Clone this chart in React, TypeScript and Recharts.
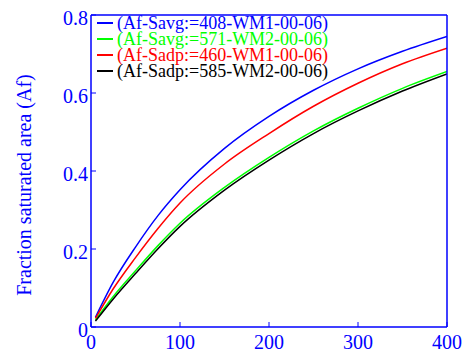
import { LineChart, Line, XAxis, YAxis, Legend } from 'recharts';

const xValues = [5, 25, 50, 75, 100, 150, 200, 250, 300, 350, 400];
const savg408 = [0.025, 0.115, 0.205, 0.285, 0.352, 0.458, 0.54, 0.607, 0.662, 0.707, 0.745];
const savg571 = [0.018, 0.078, 0.144, 0.208, 0.266, 0.358, 0.435, 0.503, 0.561, 0.612, 0.655];
const sadp460 = [0.022, 0.098, 0.178, 0.252, 0.318, 0.418, 0.496, 0.566, 0.625, 0.675, 0.715];
const sadp585 = [0.015, 0.072, 0.137, 0.2, 0.258, 0.351, 0.428, 0.496, 0.554, 0.605, 0.649];

const xTicks = [0, 100, 200, 300, 400];
const yTicks = [0, 0.2, 0.4, 0.6, 0.8];

const seriesInfo = [
  { key: 'savg408', name: '(Af-Savg:=408-WM1-00-06)', color: '#0000ff' },
  { key: 'savg571', name: '(Af-Savg:=571-WM2-00-06)', color: '#00ff00' },
  { key: 'sadp460', name: '(Af-Sadp:=460-WM1-00-06)', color: '#ff0000' },
  { key: 'sadp585', name: '(Af-Sadp:=585-WM2-00-06)', color: '#000000' },
];

const data = xValues.map((x, i) => ({
  x,
  savg408: savg408[i],
  savg571: savg571[i],
  sadp460: sadp460[i],
  sadp585: sadp585[i],
}));

const BLUE = '#0000ff';
const FONT = 'Liberation Serif, Times New Roman, serif';
const tickStyle = { fill: BLUE, fontSize: 20, fontFamily: FONT };

const LegendBox = () => (
  <div style={{ fontFamily: FONT, fontSize: 18 }}>
    {seriesInfo.map((s) => (
      <div key={s.key} style={{ display: 'flex', alignItems: 'center', height: 16, whiteSpace: 'nowrap' }}>
        <span style={{ display: 'inline-block', width: 16, height: 1.5, background: s.color, marginRight: 4 }} />
        <span
          style={{
            display: 'inline-block',
            color: s.color,
            height: 16,
            lineHeight: '16px',
            overflow: 'visible',
          }}
        >
          {s.name}
        </span>
      </div>
    ))}
  </div>
);

const YLabel = () => (
  <text
    x={24}
    y={185}
    transform="rotate(-90, 24, 185)"
    textAnchor="middle"
    dominantBaseline="central"
    fill={BLUE}
    fontSize={20}
    fontFamily={FONT}
  >
    Fraction saturated area (Af)
  </text>
);

export default function App() {
  return (
    <div style={{ position: 'absolute', left: 0, top: 0, background: '#fff' }}>
      <LineChart
        width={466}
        height={353}
        data={data}
        margin={{ top: 14, right: 18, bottom: 0, left: 0 }}
      >
        <XAxis
          xAxisId="b"
          dataKey="x"
          type="number"
          domain={[0, 400]}
          ticks={xTicks}
          allowDataOverflow
          height={26}
          tickSize={-5}
          tickMargin={13}
          axisLine={{ stroke: BLUE, strokeWidth: 1.5 }}
          tickLine={{ stroke: BLUE }}
          tick={tickStyle}
        />
        <XAxis
          xAxisId="t"
          orientation="top"
          dataKey="x"
          type="number"
          domain={[0, 400]}
          ticks={xTicks}
          allowDataOverflow
          height={1}
          tickSize={-5}
          axisLine={{ stroke: BLUE, strokeWidth: 1.5 }}
          tickLine={{ stroke: BLUE }}
          tick={false}
        />
        <YAxis
          yAxisId="l"
          type="number"
          domain={[0, 0.8]}
          ticks={yTicks}
          allowDataOverflow
          width={91}
          tickSize={-5}
          tickMargin={8}
          axisLine={{ stroke: BLUE, strokeWidth: 1.5 }}
          tickLine={{ stroke: BLUE }}
          tick={{ ...tickStyle, dy: 3 }}
          label={{ content: () => <YLabel /> }}
        />
        <YAxis
          yAxisId="r"
          orientation="right"
          type="number"
          domain={[0, 0.8]}
          ticks={yTicks}
          allowDataOverflow
          width={1}
          tickSize={-5}
          axisLine={{ stroke: BLUE, strokeWidth: 1.5 }}
          tickLine={{ stroke: BLUE }}
          tick={false}
        />
        <Legend
          layout="horizontal"
          verticalAlign="middle"
          align="center"
          wrapperStyle={{ left: 97, top: 15, width: 260, height: 64 }}
          content={() => <LegendBox />}
        />
        {seriesInfo.map((s) => (
          <Line
            key={s.key}
            xAxisId="b"
            yAxisId="l"
            type="monotone"
            dataKey={s.key}
            name={s.name}
            stroke={s.color}
            strokeWidth={1.5}
            dot={false}
            isAnimationActive={false}
          />
        ))}
      </LineChart>
    </div>
  );
}
